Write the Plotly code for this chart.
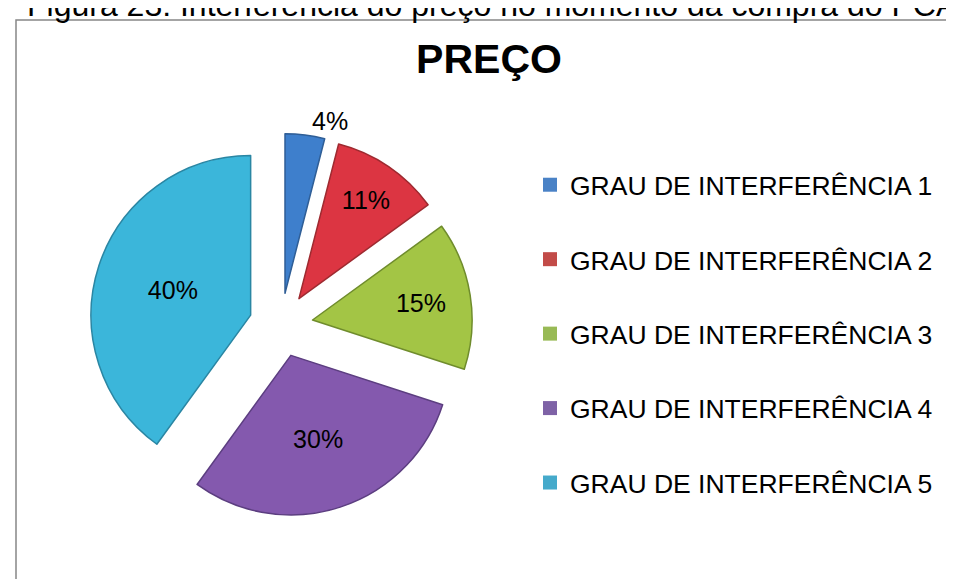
import plotly.graph_objects as go

# ---- data ----
categories = ["GRAU DE INTERFERÊNCIA 1", "GRAU DE INTERFERÊNCIA 2", "GRAU DE INTERFERÊNCIA 3",
              "GRAU DE INTERFERÊNCIA 4", "GRAU DE INTERFERÊNCIA 5"]
values = [4, 11, 15, 30, 40]
slice_colors = ["#3E7FCC", "#DC3542", "#A3C545", "#8459AE", "#3BB6DA"]
edge_colors = ["#2F5E96", "#9E2A30", "#6F8C2C", "#5C3E80", "#2A86A3"]
legend_colors = ["#4A82C6", "#C24B48", "#98BA55", "#7E62A6", "#45AACB"]
text_positions = ["outside", "inside", "inside", "inside", "inside"]
title_text = "PREÇO"
caption_text = "Figura 23: Interferência do preço no momento da compra do PCA"

W, H = 954, 579
FONT = "Liberation Sans, Arial, sans-serif"

fig = go.Figure()

fig.add_trace(go.Pie(
    labels=categories,
    values=values,
    sort=False,
    direction="clockwise",
    rotation=0,
    pull=[0.2] * len(values),
    marker=dict(colors=slice_colors, line=dict(color=edge_colors, width=1.5)),
    texttemplate="%{value}%",
    textposition=text_positions,
    insidetextorientation="horizontal",
    textfont=dict(family=FONT, size=25, color="black"),
    domain=dict(x=[81.5 / W, 464.5 / W], y=[1 - 508.5 / H, 1 - 125.5 / H]),
    showlegend=False,
    hoverinfo="label+percent",
))

# legend entries (one per category, so spacing can be controlled)
for i, (cat, col) in enumerate(zip(categories, legend_colors)):
    fig.add_trace(go.Scatter(
        x=[None], y=[None], mode="markers",
        marker=dict(symbol="square", size=14, color=col),
        name=cat, legendgroup=f"g{i}", showlegend=True,
    ))

fig.update_layout(
    width=W, height=H,
    margin=dict(l=0, r=0, t=0, b=0),
    paper_bgcolor="white", plot_bgcolor="white",
    xaxis=dict(visible=False), yaxis=dict(visible=False),
    title=dict(text=f"<b>{title_text}</b>", x=481 / W, xanchor="center",
               y=1 - 51 / H, yanchor="middle",
               font=dict(family=FONT, size=41, color="black")),
    legend=dict(x=522 / W, xanchor="left", y=1 - 153 / H, yanchor="top",
                font=dict(family=FONT, size=26.5, color="black"),
                tracegroupgap=37, bgcolor="rgba(0,0,0,0)", itemsizing="trace"),
    annotations=[dict(text=caption_text, xref="paper", yref="paper",
                      x=17 / W, xanchor="left", y=1 - 17 / H, yanchor="bottom",
                      showarrow=False,
                      font=dict(family=FONT, size=32, color="black"))],
    shapes=[dict(type="rect", xref="paper", yref="paper",
                 x0=8 / W, x1=1.05, y0=-0.05, y1=1 - 12 / H,
                 line=dict(color="#878787", width=1.5), fillcolor="rgba(0,0,0,0)",
                 layer="below")],
)

fig.write_html("out.html")
